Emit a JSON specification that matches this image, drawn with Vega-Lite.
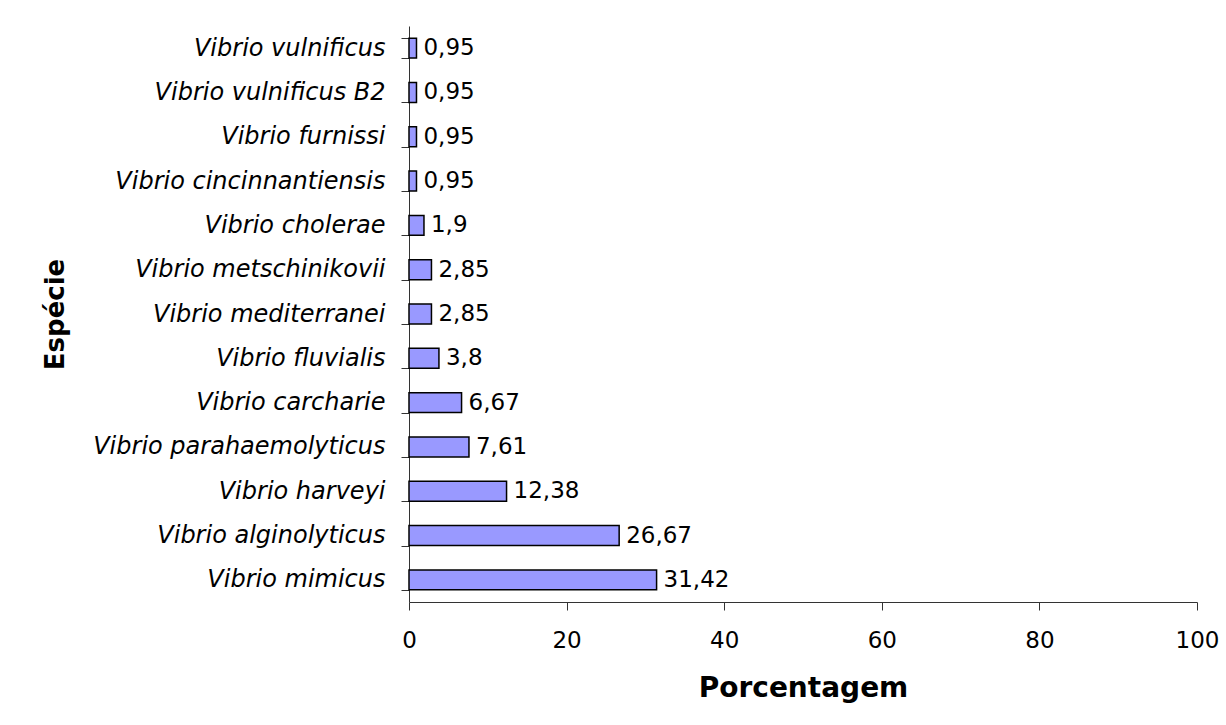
{
  "$schema": "https://vega.github.io/schema/vega-lite/v6.json",
  "autosize": "none",
  "width": 788,
  "height": 576,
  "padding": {"left": 409, "top": 26, "right": 29, "bottom": 123},
  "background": "white",
  "config": {
    "view": {"stroke": null},
    "font": "DejaVu Sans",
    "locale": {"number": {"decimal": ",", "thousands": ".", "grouping": [3], "currency": ["", ""]}}
  },
  "data": {
    "values": [
      {"especie": "Vibrio vulnificus", "pct": 0.95},
      {"especie": "Vibrio vulnificus B2", "pct": 0.95},
      {"especie": "Vibrio furnissi", "pct": 0.95},
      {"especie": "Vibrio cincinnantiensis", "pct": 0.95},
      {"especie": "Vibrio cholerae", "pct": 1.9},
      {"especie": "Vibrio metschinikovii", "pct": 2.85},
      {"especie": "Vibrio mediterranei", "pct": 2.85},
      {"especie": "Vibrio fluvialis", "pct": 3.8},
      {"especie": "Vibrio carcharie", "pct": 6.67},
      {"especie": "Vibrio parahaemolyticus", "pct": 7.61},
      {"especie": "Vibrio harveyi", "pct": 12.38},
      {"especie": "Vibrio alginolyticus", "pct": 26.67},
      {"especie": "Vibrio mimicus", "pct": 31.42}
    ]
  },
  "encoding": {
    "y": {
      "field": "especie",
      "type": "nominal",
      "sort": null,
      "scale": {"paddingInner": 0.55, "paddingOuter": 0.275},
      "axis": {
        "title": "Espécie",
        "titleFont": "DejaVu Sans",
        "titleFontSize": 26,
        "titleFontWeight": "bold",
        "titleColor": "#000",
        "titleX": -354,
        "titleBaseline": "middle",
        "titleAngle": -90,
        "labelFont": "DejaVu Sans",
        "labelFontSize": 24,
        "labelFontStyle": "italic",
        "labelColor": "#000",
        "labelPadding": 16,
        "tickBand": "extent",
        "tickSize": 8,
        "tickColor": "#333",
        "domainColor": "#333",
        "labelLimit": 400
      }
    },
    "x": {
      "field": "pct",
      "type": "quantitative",
      "scale": {"domain": [0, 100], "nice": false},
      "axis": {
        "title": "Porcentagem",
        "titleFont": "DejaVu Sans",
        "titleFontSize": 28,
        "titleFontWeight": "bold",
        "titleColor": "#000",
        "titlePadding": 22,
        "values": [0, 20, 40, 60, 80, 100],
        "grid": false,
        "labelFlush": false,
        "labelFont": "DejaVu Sans",
        "labelFontSize": 23,
        "labelColor": "#000",
        "labelPadding": 19,
        "tickSize": 8,
        "tickColor": "#333",
        "domainColor": "#333"
      }
    }
  },
  "layer": [
    {
      "mark": {"type": "bar", "fill": "#9999FF", "stroke": "#000", "strokeWidth": 1.5}
    },
    {
      "mark": {"type": "text", "align": "left", "baseline": "middle", "dx": 7, "fontSize": 23, "font": "DejaVu Sans", "color": "#000"},
      "encoding": {
        "text": {"field": "pct", "type": "quantitative", "format": ".2~f"}
      }
    }
  ]
}
